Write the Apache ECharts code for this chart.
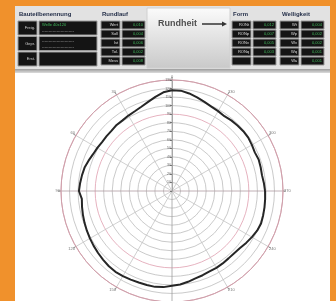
<!DOCTYPE html>
<html>
<head>
<meta charset="utf-8">
<script src="https://cdn.jsdelivr.net/npm/echarts@6/dist/echarts.min.js"></script>
<style>
html, body { margin: 0; padding: 0; background: #f0912c; }
#chart { width: 336px; height: 301px; filter: blur(0.4px); }
</style>
</head>
<body>
<div id="chart"></div>
<script>
// measured radius (grid units, ring every 10) sampled every 5 deg, counter-clockwise from east
const profileRadius = [
	109, 108, 107, 107.5, 108, 107, 108, 109, 109, 108.5, 108, 107,
	108, 109, 111, 113.5, 116, 118, 118, 116, 112, 108, 105, 103,
	102, 101, 101, 100, 100, 100, 101, 102, 104, 106, 107, 108,
	109, 106, 107, 108, 109, 110, 111, 112, 113, 114, 115, 115.5,
	115, 114.5, 114, 114, 114, 113, 111, 110, 108, 106, 105, 104,
	104, 103.5, 103, 103, 104, 106, 108, 110, 111, 110.5, 110, 109.5
];
const angleStep = 5;

// header texts
const partTitle = 'Bauteilbenennung';
const partRows = ['Freig.', 'Gepr.', 'Erst.'];
const runoutTitle = 'Rundlauf';
const runoutLabels = ['Wert', 'Soll', 'Ist', 'Tol.', 'Mess'];
const runoutValues = ['0,010', '0,004', '0,006', '0,002', '0,008'];
const roundTitle = 'Rundheit';
const formTitle = 'Form';
const formLabels = ['RONt', 'RONp', 'RONv', 'RONq', ''];
const formValues = ['0,012', '0,007', '0,005', '0,003', ''];
const waveTitle = 'Welligkeit';
const waveLabels = ['Wt', 'Wp', 'Wv', 'Wq', 'Wa'];
const waveValues = ['0,004', '0,002', '0,002', '0,001', '0,001'];

const chart = echarts.init(document.getElementById('chart'));

// build [radius, angle] pairs; angle axis starts at top, so shift from east
const profile = profileRadius.map((r, i) => [r, (i * angleStep + 270) % 360]);
profile.push(profile[0]);

function cell(x, y, w, h, text, color) {
	return {
		type: 'group',
		children: [
			{ type: 'rect', shape: { x: x, y: y, width: w, height: h }, style: { fill: '#141414', stroke: '#9a9a9a', lineWidth: 1 } },
			{ type: 'text', style: { text: text, x: x + w - 2, y: y + h / 2, fill: color, font: '4px sans-serif', align: 'right', verticalAlign: 'middle' } }
		]
	};
}

function smallTable(x0, labels, values, valueColor) {
	const out = [];
	const rowH = 9;
	labels.forEach((lab, i) => {
		out.push(cell(x0, 21 + i * rowH, 19, rowH - 1, lab, '#dddddd'));
		out.push(cell(x0 + 21, 21 + i * rowH, 23, rowH - 1, values[i], valueColor));
	});
	return out;
}

const header = [];
// white panel + header band
header.push({ type: 'rect', z: -10, shape: { x: 15, y: 6, width: 315, height: 300 }, style: { fill: '#ffffff' } });
header.push({ type: 'rect', z: -9, shape: { x: 15, y: 6, width: 315, height: 64 }, style: { fill: '#e2e2e2' } });
header.push({ type: 'rect', z: -8, shape: { x: 15, y: 69, width: 315, height: 4 }, style: { fill: new echarts.graphic.LinearGradient(0, 0, 0, 1, [{ offset: 0, color: '#9c9c9c' }, { offset: 1, color: '#dcdcdc' }]) } });
header.push({ type: 'rect', z: -8, shape: { x: 147, y: 8, width: 83, height: 60 }, style: { fill: new echarts.graphic.LinearGradient(0, 0, 0, 1, [{ offset: 0, color: '#fbfbfb' }, { offset: 1, color: '#c9c9c9' }]), stroke: '#d0d0d0' } });

// left part name table
header.push({ type: 'text', style: { text: partTitle, x: 19, y: 14, fill: '#25304a', font: 'bold 6px sans-serif', verticalAlign: 'middle' } });
partRows.forEach((lab, i) => {
	header.push(cell(18, 21 + i * 15.5, 19, 14, lab, '#cfcfcf'));
	header.push({ type: 'rect', shape: { x: 39, y: 21 + i * 15.5, width: 58, height: 14 }, style: { fill: '#141414', stroke: '#9a9a9a', lineWidth: 1 } });
});
header.push({ type: 'text', style: { text: 'Welle 40x120', x: 42, y: 25, fill: '#3fb65a', font: '4px sans-serif', verticalAlign: 'middle' } });
header.push({ type: 'text', style: { text: '------------------------', x: 42, y: 31, fill: '#8a8a8a', font: '4px sans-serif', verticalAlign: 'middle' } });
header.push({ type: 'text', style: { text: '------------------------', x: 42, y: 41, fill: '#8a8a8a', font: '4px sans-serif', verticalAlign: 'middle' } });
header.push({ type: 'text', style: { text: '------------------------', x: 42, y: 47, fill: '#8a8a8a', font: '4px sans-serif', verticalAlign: 'middle' } });

// runout table
header.push({ type: 'text', style: { text: runoutTitle, x: 102, y: 14, fill: '#25304a', font: 'bold 6px sans-serif', verticalAlign: 'middle' } });
smallTable(101, runoutLabels, runoutValues, '#3fb65a').forEach(e => header.push(e));

// roundness caption with arrow
header.push({ type: 'text', style: { text: roundTitle, x: 158, y: 24, fill: '#505050', font: 'bold 9px sans-serif', verticalAlign: 'middle' } });
header.push({ type: 'line', shape: { x1: 202, y1: 24, x2: 223, y2: 24 }, style: { stroke: '#333333', lineWidth: 1.5 } });
header.push({ type: 'polygon', shape: { points: [[222, 21.5], [227, 24], [222, 26.5]] }, style: { fill: '#333333' } });

// form + waviness tables
header.push({ type: 'text', style: { text: formTitle, x: 233, y: 14, fill: '#25304a', font: 'bold 6px sans-serif', verticalAlign: 'middle' } });
smallTable(232, formLabels, formValues, '#3fb65a').forEach(e => header.push(e));
header.push({ type: 'text', style: { text: waveTitle, x: 282, y: 14, fill: '#25304a', font: 'bold 6px sans-serif', verticalAlign: 'middle' } });
smallTable(280, waveLabels, waveValues, '#3fb65a').forEach(e => header.push(e));

// ring colours: grey grid, two pink tolerance rings
const ringColors = ['#bdbdbd', '#bdbdbd', '#bdbdbd', '#bdbdbd', '#bdbdbd', '#bdbdbd', '#bdbdbd',
	'#bdbdbd', '#bdbdbd', '#e0a0b0', '#bdbdbd', '#bdbdbd', '#bdbdbd', '#d49aa8'];
const spokeColors = ['#a0a0a0', '#c4c4c4', '#c4c4c4', '#b09ca2', '#c4c4c4', '#c4c4c4',
	'#a0a0a0', '#c4c4c4', '#c4c4c4', '#b09ca2', '#c4c4c4', '#c4c4c4'];

chart.setOption({
	animation: false,
	graphic: header,
	polar: { center: [172, 191], radius: 111 },
	angleAxis: {
		type: 'value',
		min: 0,
		max: 360,
		interval: 30,
		startAngle: 90,
		clockwise: false,
		axisLine: { lineStyle: { color: '#cfa0ab', width: 1 } },
		axisTick: { show: true, length: 3, lineStyle: { color: '#888888' } },
		axisLabel: { margin: 1, fontSize: 4, color: '#777777', formatter: v => (v === 360 ? '' : v) },
		splitLine: { show: true, lineStyle: { color: spokeColors, width: 0.8 } }
	},
	radiusAxis: {
		type: 'value',
		min: 0,
		max: 130,
		interval: 10,
		axisLine: { show: true, lineStyle: { color: '#9a9a9a', width: 0.8 } },
		axisTick: { show: true, length: 2, lineStyle: { color: '#777777' } },
		axisLabel: { fontSize: 3.5, color: '#666666', margin: 1, formatter: v => (v === 0 ? '' : v) },
		splitLine: { show: true, lineStyle: { color: ringColors, width: 0.8 } }
	},
	series: [{
		type: 'line',
		coordinateSystem: 'polar',
		data: profile,
		showSymbol: false,
		lineStyle: { color: '#262626', width: 2 }
	}]
});
</script>
</body>
</html>
